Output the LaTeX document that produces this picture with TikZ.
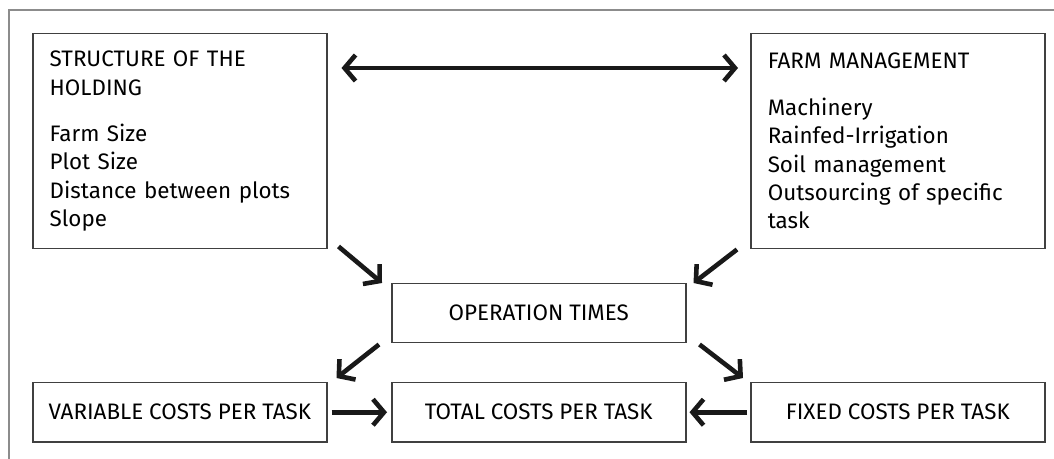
\documentclass[tikz,border=0pt]{standalone}
\usepackage{fontspec}
\setmainfont{Fira Sans}
\usepackage{tikz}
\usetikzlibrary{arrows.meta,calc}

\tikzset{
  box/.style={draw=black!75, line width=0.75pt, rectangle, inner sep=0pt, anchor=north west},
  listbox/.style={box, minimum width=147pt, minimum height=107.5pt, text width=130pt, align=left},
  costbox/.style={box, minimum width=147pt, minimum height=29.5pt, align=center},
  flow/.style={line width=2.3pt, draw=black!90, -{Straight Barb[length=5.5pt,width=13pt]}},
  flowboth/.style={line width=2.3pt, draw=black!90, {Straight Barb[length=5.5pt,width=13pt]}-{Straight Barb[length=5.5pt,width=13pt]}},
}

\begin{document}
\begin{tikzpicture}[x=0.5pt,y=-0.5pt,font=\fontsize{11.2}{14.2}\selectfont]
  \useasboundingbox (0,0) rectangle (1054,459);
  \draw[black!45, line width=0.75pt] (9,459) -- (9,10) -- (1054,10);

  \node[listbox] (struct) at (32,33) {STRUCTURE OF THE\\HOLDING\\[9pt]Farm Size\\Plot Size\\Distance between plots\\Slope};
  \node[listbox] (mgmt) at (750,33) {FARM MANAGEMENT\\[9pt]Machinery\\Rainfed-Irrigation\\Soil management\\Outsourcing of specific\\task};

  \node[costbox] (ops) at (391,283) {OPERATION TIMES};
  \node[costbox] (var) at (32,382) {VARIABLE COSTS PER TASK};
  \node[costbox] (total) at (391,382) {TOTAL COSTS PER TASK};
  \node[costbox] (fixed) at (750,382) {FIXED COSTS PER TASK};

  \draw[flowboth] ($(struct.north east)+(14,35)$) -- ($(mgmt.north west)+(-12,35)$);
  \draw[flow] ($(struct.south east)+(11,-3)$) -- ($(ops.north west)+(-9,0)$);
  \draw[flow] ($(mgmt.south west)+(-13,0)$) -- ($(ops.north east)+(7,0)$);
  \draw[flow] ($(ops.south west)+(-12,1)$) -- ($(var.north east)+(9,-4)$);
  \draw[flow] ($(ops.south east)+(13,1)$) -- ($(fixed.north west)+(-7,-4)$);
  \draw[flow] ($(var.east)+(4,0)$) -- ($(total.west)+(-4,0)$);
  \draw[flow] ($(fixed.west)+(-3,0)$) -- ($(total.east)+(3,0)$);
\end{tikzpicture}
\end{document}
